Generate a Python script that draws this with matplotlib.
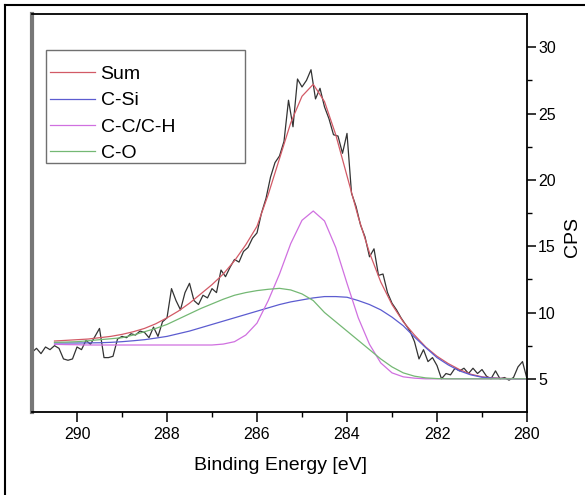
import numpy as np
from matplotlib import pyplot as plt
from matplotlib.lines import Line2D
from matplotlib.patches import Rectangle

plt.rcParams['font.family'] = ['Liberation Sans', 'DejaVu Sans']

# raw spectrum, 291.0 -> 280.0 eV in 0.1 eV steps
raw_energy = np.round(np.arange(291.0, 279.95, -0.1), 1)
raw_cps = [
    7.0, 7.3, 6.9, 7.4, 7.2, 7.5, 7.3, 6.5, 6.4, 6.5,
    7.4, 7.2, 7.9, 7.6, 8.2, 8.8, 6.6, 6.6, 6.7, 8.0,
    8.2, 8.1, 8.4, 8.3, 8.6, 8.5, 8.1, 8.9, 8.2, 9.3,
    9.6, 11.8, 10.9, 10.2, 11.5, 12.2, 10.9, 10.6, 11.3, 11.1,
    11.8, 11.5, 13.2, 12.7, 13.4, 14.0, 13.8, 14.6, 14.9, 15.6,
    16.0, 17.5, 18.6, 20.2, 21.3, 21.8, 22.9, 26.0, 24.0, 27.6,
    27.0, 27.5, 28.3, 26.1, 26.9, 25.5, 24.6, 23.4, 23.3, 22.0,
    23.5, 19.0, 18.0, 16.6, 15.7, 14.2, 14.8, 12.8, 12.9, 11.5,
    10.7, 10.2, 9.6, 9.1, 8.6, 7.8, 6.5, 7.2, 6.3, 6.6,
    6.0, 5.0, 5.4, 5.3, 5.8, 5.6, 5.8, 5.4, 5.8, 5.4,
    5.7, 5.2, 5.0, 5.6, 5.0, 5.1, 4.9, 5.1, 5.9, 6.3,
    5.0,
]

# fitted curves, 290.5 -> 280.0 eV in 0.25 eV steps
fit_energy = np.arange(290.5, 279.99, -0.25)
sum_fit = [
    7.85, 7.9, 7.95, 8.0, 8.1, 8.2, 8.35, 8.55, 8.8, 9.15,
    9.6, 10.1, 10.7, 11.4, 12.1, 12.9, 13.9, 15.1, 16.5, 18.9,
    21.6, 24.3, 26.3, 27.2, 25.9, 23.4, 20.3, 17.2, 14.5, 12.3,
    10.6, 9.3, 8.3, 7.4, 6.7, 6.15, 5.7, 5.35, 5.15, 5.07,
    5.03, 5.01, 5.0,
]
c_si = [
    7.7, 7.7, 7.7, 7.71, 7.72, 7.75, 7.8, 7.87, 7.95, 8.07,
    8.2, 8.4, 8.6, 8.85, 9.1, 9.35, 9.6, 9.85, 10.1, 10.35,
    10.6, 10.8, 10.95, 11.1, 11.2, 11.2, 11.15, 10.9, 10.6, 10.2,
    9.65, 9.0, 8.15, 7.35, 6.6, 6.05, 5.6, 5.3, 5.12, 5.05,
    5.02, 5.0, 5.0,
]
c_c = [
    7.6, 7.58, 7.57, 7.55, 7.55, 7.55, 7.55, 7.55, 7.55, 7.55,
    7.55, 7.55, 7.55, 7.55, 7.55, 7.62, 7.8, 8.3, 9.2, 10.9,
    12.9, 15.2, 16.95, 17.65, 16.9, 14.9, 12.2, 9.6, 7.6, 6.2,
    5.45, 5.15, 5.05, 5.0, 5.0, 5.0, 5.0, 5.0, 5.0, 5.0,
    5.0, 5.0, 5.0,
]
c_o = [
    7.75, 7.77, 7.8, 7.87, 7.95, 8.02, 8.1, 8.3, 8.55, 8.8,
    9.1, 9.5, 9.9, 10.3, 10.65, 11.0, 11.3, 11.5, 11.65, 11.75,
    11.82, 11.7, 11.4, 10.9, 10.0, 9.3, 8.6, 7.9, 7.2, 6.5,
    5.9, 5.45, 5.2, 5.07, 5.02, 5.0, 5.0, 5.0, 5.0, 5.0,
    5.0, 5.0, 5.0,
]

W, H = 585, 495
fig = plt.figure(figsize=(W / 100, H / 100), dpi=100)
ax = fig.add_axes([32 / W, 1 - 412 / H, 495 / W, 398 / H])

ax.plot(raw_energy, raw_cps, color='#333333', lw=0.9)
ax.plot(fit_energy, sum_fit, color='#d25a66', lw=0.9, label='Sum')
ax.plot(fit_energy, c_si, color='#5c5cd0', lw=0.9, label='C-Si')
ax.plot(fit_energy, c_c, color='#d070e0', lw=0.9, label='C-C/C-H')
ax.plot(fit_energy, c_o, color='#74b874', lw=0.9, label='C-O')

ax.set_xlim(291, 280)
ax.set_ylim(2.5, 32.5)
ax.set_xticks([290, 288, 286, 284, 282, 280])
ax.set_xticks([289, 287, 285, 283, 281], minor=True)
ax.set_yticks([5, 10, 15, 20, 25, 30])
ax.set_yticks([7.5, 12.5, 17.5, 22.5, 27.5], minor=True)
ax.yaxis.tick_right()
ax.tick_params(axis='x', which='major', direction='out', length=7.5, width=1.1,
               labelsize=11.5, pad=3)
ax.tick_params(axis='y', which='major', direction='out', length=6.5, width=1.1,
               labelsize=11.5, pad=1.5)
ax.tick_params(axis='both', which='minor', direction='out', length=3.5, width=1.0)
ax.tick_params(axis='y', which='both', left=False, right=True)

ax.spines['left'].set_color('#777777')
ax.spines['left'].set_linewidth(3)
for s in ['top', 'right', 'bottom']:
    ax.spines[s].set_linewidth(1.3)

fig.text(280 / W, 1 - 470 / H, 'Binding Energy [eV]', fontsize=14,
         ha='center', va='baseline')
fig.text(572 / W, 1 - 237 / H, 'CPS', fontsize=14, rotation=90,
         ha='center', va='center')

leg = ax.legend(loc='upper left', bbox_to_anchor=(50 / W, 1 - 65.5 / H),
                bbox_transform=fig.transFigure, fontsize=14, frameon=False,
                handlelength=2.3, handletextpad=0.3, labelspacing=0.45,
                borderpad=0, borderaxespad=0)
fig.add_artist(Rectangle((46 / W, 1 - 163 / H), 199 / W, 113 / H, fill=False,
                         edgecolor='#707070', lw=1.0, transform=fig.transFigure))

# outer frame of the figure (only top and left edges are visible)
fig.add_artist(Line2D([5 / W, 1], [1 - 5 / H, 1 - 5 / H], color='black', lw=1.5,
                      transform=fig.transFigure))
fig.add_artist(Line2D([5 / W, 5 / W], [0, 1 - 5 / H], color='black', lw=1.5,
                      transform=fig.transFigure))

fig.savefig('out.png', dpi=100)
